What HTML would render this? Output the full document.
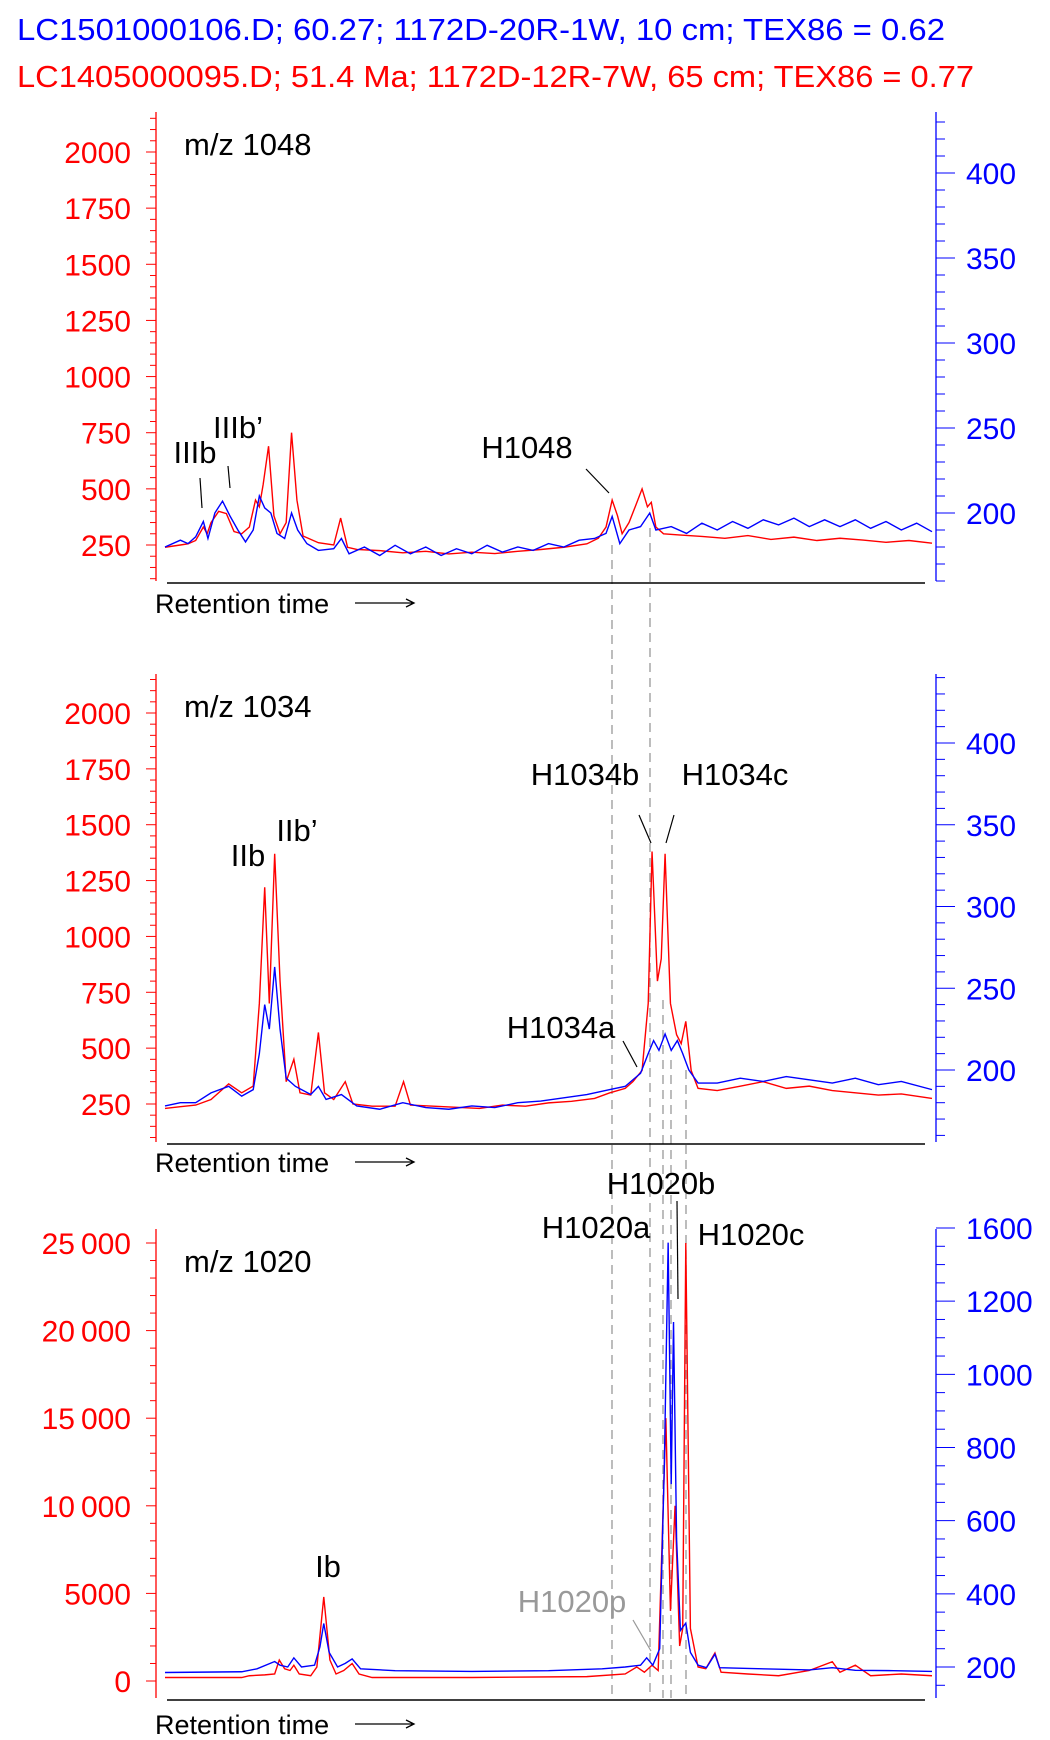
<!DOCTYPE html>
<html><head><meta charset="utf-8"><style>
html,body{margin:0;padding:0;background:#fff}
svg{display:block;font-family:"Liberation Sans",Arial,sans-serif}
</style></head><body>
<svg id="chart" width="1050" height="1740" viewBox="0 0 1050 1740" xmlns="http://www.w3.org/2000/svg">
<text x="17" y="40" font-size="31" fill="#0000ff" textLength="928" lengthAdjust="spacingAndGlyphs">LC1501000106.D; 60.27; 1172D-20R-1W, 10 cm; TEX86 = 0.62</text>
<text x="17" y="87" font-size="31" fill="#ff0000" textLength="957" lengthAdjust="spacingAndGlyphs">LC1405000095.D; 51.4 Ma; 1172D-12R-7W, 65 cm; TEX86 = 0.77</text>
<g id="layer"></g>
</svg>
<script>
// ---- data (time in % of run, intensity in axis units) ----
const p1Red = [[0,240],[2,250],[3,255],[4,270],[5,330],[5.5,300],[6,350],[7,400],[8,390],[9,310],[10,300],[11,330],[11.8,450],[12.3,420],[12.8,520],[13.5,690],[14.2,380],[15,300],[15.8,350],[16.5,750],[17.2,450],[18,290],[20,260],[22,250],[22.9,370],[23.8,240],[25,230],[28,225],[31,215],[34,222],[37,210],[40,218],[43,212],[46,222],[49,230],[52,240],[55,255],[56.5,280],[57.5,330],[58.3,450],[59,380],[59.6,300],[60.5,350],[61.3,420],[62.2,500],[62.9,420],[63.4,440],[64,330],[65,300],[67,295],[70,288],[73,280],[76,292],[79,275],[82,285],[85,270],[88,280],[91,272],[94,262],[97,270],[100,258]];
const p1Blue = [[0,180],[2,184],[3,182],[4,186],[5,195],[5.6,185],[6.5,200],[7.5,207],[8.5,198],[9.5,190],[10.5,183],[11.5,190],[12.3,210],[13,203],[13.8,200],[14.6,188],[15.6,185],[16.5,200],[17.3,190],[18.5,182],[20,178],[22,179],[23,185],[24,176],[26,180],[28,175],[30,181],[32,176],[34,180],[36,175],[38,179],[40,176],[42,181],[44,177],[46,180],[48,178],[50,182],[52,180],[54,184],[56,185],[57.5,188],[58.3,198],[59.3,182],[60.5,190],[62,192],[63.2,200],[64,190],[66,192],[68,188],[70,194],[72,190],[74,195],[76,191],[78,196],[80,193],[82,197],[84,192],[86,196],[88,192],[90,196],[92,191],[94,195],[96,190],[98,194],[100,189]];
const p2Red = [[0,230],[2,238],[4,245],[6,270],[8.3,340],[10,300],[11.5,330],[12.3,700],[13,1220],[13.6,700],[14.3,1370],[15,800],[15.8,350],[16.8,450],[17.6,300],[19,290],[20,570],[20.8,300],[22,270],[23.5,350],[24.5,250],[27,240],[30,240],[31.1,350],[32,245],[35,240],[38,235],[41,230],[44,245],[47,240],[50,255],[53,262],[56,275],[58,300],[60,320],[61,350],[62.2,400],[63,700],[63.5,1380],[64.2,800],[64.7,900],[65.2,1370],[65.9,700],[66.7,560],[67.3,520],[67.9,620],[68.6,400],[69.5,320],[72,310],[75,330],[78,350],[81,320],[84,330],[87,310],[90,300],[93,290],[96,295],[100,275]];
const p2Blue = [[0,178],[2,180],[4,180],[6,186],[8.3,190],[10,184],[11.5,188],[12.3,210],[13,240],[13.6,225],[14.3,263],[15,225],[15.8,195],[17,190],[19,185],[20,190],[21,182],[23,185],[25,178],[28,176],[31,180],[34,177],[37,176],[40,178],[43,177],[46,180],[49,181],[52,183],[55,185],[58,188],[60,190],[62,198],[63,210],[63.7,218],[64.4,212],[65.2,222],[66,212],[66.8,218],[67.5,210],[68.3,200],[69.5,192],[72,192],[75,195],[78,193],[81,196],[84,194],[87,192],[90,195],[93,191],[96,193],[100,188]];
const p3Red = [[0,200],[10,200],[11,300],[13,350],[14.3,400],[14.9,1200],[15.6,700],[16.3,600],[16.8,900],[17.5,400],[19,300],[19.8,800],[20.7,4800],[21.5,1200],[22.3,400],[23.3,600],[24.4,1000],[25.3,400],[27,200],[40,200],[55,250],[60,400],[61.5,800],[62.5,500],[63.5,900],[64.3,600],[65.3,15000],[65.9,4000],[66.5,10000],[67.1,2000],[67.5,3000],[67.9,25000],[68.5,3000],[69.5,800],[70.5,700],[71.7,1600],[72.5,500],[76,400],[80,300],[84,600],[87,1100],[88,500],[90,900],[92,300],[96,400],[100,300]];
const p3Blue = [[0,185],[10,187],[12,195],[14.3,215],[15,205],[16,200],[16.8,225],[17.8,200],[19.5,205],[20.2,255],[20.7,319],[21.4,240],[22.5,200],[23.5,210],[24.4,222],[25.5,195],[30,190],[40,188],[50,190],[57,195],[60,200],[62,205],[62.8,225],[63.6,205],[64.5,250],[65.1,750],[65.6,1360],[66,700],[66.3,1143],[66.7,550],[67.2,300],[67.9,320],[68.5,240],[69.5,205],[70.6,198],[71.7,235],[72.3,198],[76,196],[80,194],[84,192],[87,198],[90,191],[95,190],[100,188]];

const panels = [
 {name:'mz1048', label:'m/z 1048', top:112, bot:581,
  redVals:[250,500,750,1000,1250,1500,1750,2000], redLabels:['250','500','750','1000','1250','1500','1750','2000'], redRef:[250,545,2000,152], redMinor:50, redRange:[100,2150],
  blueVals:[200,250,300,350,400], blueLabels:['200','250','300','350','400'], blueRef:[200,513,400,173], blueMinor:10, blueRange:[160,430],
  red:p1Red, blue:p1Blue, retY:603},
 {name:'mz1034', label:'m/z 1034', top:674, bot:1142,
  redVals:[250,500,750,1000,1250,1500,1750,2000], redLabels:['250','500','750','1000','1250','1500','1750','2000'], redRef:[250,1104,2000,713], redMinor:50, redRange:[100,2150],
  blueVals:[200,250,300,350,400], blueLabels:['200','250','300','350','400'], blueRef:[200,1070,400,743], blueMinor:10, blueRange:[160,440],
  red:p2Red, blue:p2Blue, retY:1162},
 {name:'mz1020', label:'m/z 1020', top:1229, bot:1698,
  redVals:[0,5000,10000,15000,20000,25000], redLabels:['0','5000','10\u2009000','15\u2009000','20\u2009000','25\u2009000'], redRef:[0,1681,25000,1243], redMinor:1000, redRange:[-2000,26000],
  blueVals:[200,400,600,800,1000,1200,1400], blueLabels:['200','400','600','800','1000','1200','1600'], blueRef:[200,1667,1400,1228], blueMinor:50, blueRange:[100,1400],
  red:p3Red, blue:p3Blue, retY:1724}
];
const X0=165, X1=932;
const NS='http://www.w3.org/2000/svg';
const layer=document.getElementById('layer');
function mk(tag,attrs,parent){const e=document.createElementNS(NS,tag);for(const k in attrs)e.setAttribute(k,attrs[k]);(parent||layer).appendChild(e);return e;}
function xs(t){return X0+(X1-X0)*t/100;}
function lin(ref){return v=>ref[1]+(v-ref[0])*(ref[3]-ref[1])/(ref[2]-ref[0]);}

const guides=[[612,545],[650,528],[663,1000],[671,1060],[686,1070]];
guides.forEach(g=>{const l=mk('line',{x1:g[0],x2:g[0],y1:g[1],y2:1698,stroke:'#999','stroke-width':1.3,'stroke-dasharray':'9 6'});

});

panels.forEach(p=>{
 const g=mk('g',{});
 
 
 const yr=lin(p.redRef), yb=lin(p.blueRef);
 const ra=mk('line',{x1:156,x2:156,y1:p.top,y2:p.bot,stroke:'#ff0000','stroke-width':1.3},g);
 
 
 for(let v=p.redRange[0];v<=p.redRange[1];v+=p.redMinor){const y=yr(v);if(y<p.top||y>p.bot)continue;
  const major=p.redVals.includes(v);mk('line',{x1:major?146:150,x2:156,y1:y,y2:y,stroke:'#ff0000','stroke-width':1},g);}
 p.redVals.forEach((v,i)=>{const t=mk('text',{x:131,y:yr(v)+11,'font-size':30,fill:'#ff0000','text-anchor':'end'},g);t.textContent=p.redLabels[i];
  
  });
 const ba=mk('line',{x1:936,x2:936,y1:p.top,y2:p.bot,stroke:'#0000ff','stroke-width':1.3},g);
 
 
 for(let v=p.blueRange[0];v<=p.blueRange[1];v+=p.blueMinor){const y=yb(v);if(y<p.top-1||y>p.bot)continue;
  const major=p.blueVals.includes(v);mk('line',{x1:936,x2:major?955:945,y1:y,y2:y,stroke:'#0000ff','stroke-width':1},g);}
 p.blueVals.forEach((v,i)=>{const t=mk('text',{x:966,y:yb(v)+11,'font-size':30,fill:'#0000ff'},g);t.textContent=p.blueLabels[i];
  
  });
 const bl=mk('line',{x1:167,x2:925,y1:p.bot+2,y2:p.bot+2,stroke:'#000','stroke-width':1.5},g);
 
 
 const rt=mk('text',{x:155,y:p.retY+10,'font-size':27,fill:'#000'},g);rt.textContent='Retention time';
 
 
 const ar=mk('path',{d:`M355 ${p.retY} H414 M406 ${p.retY-4} L414 ${p.retY} L406 ${p.retY+4}`,stroke:'#000','stroke-width':1.3,fill:'none'},g);
 
 
 const lt=mk('text',{x:184,y:p.top+43,'font-size':31,fill:'#000'},g);lt.textContent=p.label;
 
 
 const rp=mk('polyline',{points:p.red.map(d=>xs(d[0])+','+yr(d[1])).join(' '),fill:'none',stroke:'#ff0000','stroke-width':1.4},g);
 
 
 const bp=mk('polyline',{points:p.blue.map(d=>xs(d[0])+','+yb(d[1])).join(' '),fill:'none',stroke:'#0000ff','stroke-width':1.4},g);
 
 
});

const ann=[['IIIb',195,463,'#000'],["IIIb\u2019",238,438,'#000'],['H1048',527,458,'#000'],
 ['IIb',248,866,'#000'],["IIb\u2019",297,841,'#000'],['H1034b',585,785,'#000'],['H1034c',735,785,'#000'],['H1034a',561,1038,'#000'],
 ['H1020b',661,1194,'#000'],['H1020a',596,1238,'#000'],['H1020c',751,1245,'#000'],['Ib',328,1577,'#000'],['H1020p',572,1612,'#999']];
ann.forEach(a=>{const t=mk('text',{x:a[1],y:a[2],'font-size':31,fill:a[3],'text-anchor':'middle'});t.textContent=a[0];
 
 });
const leaders=[[200,478,202,508,'#000'],[228,466,230,488,'#000'],[586,469,609,493,'#000'],
 [639,815,651,843,'#000'],[674,815,666,843,'#000'],[623,1041,637,1067,'#000'],
 [677,1201,678,1299,'#000'],[633,1620,651,1651,'#999']];
leaders.forEach(l=>{const e=mk('line',{x1:l[0],y1:l[1],x2:l[2],y2:l[3],stroke:l[4],'stroke-width':1.2});
 
 });
</script>
</body></html>
